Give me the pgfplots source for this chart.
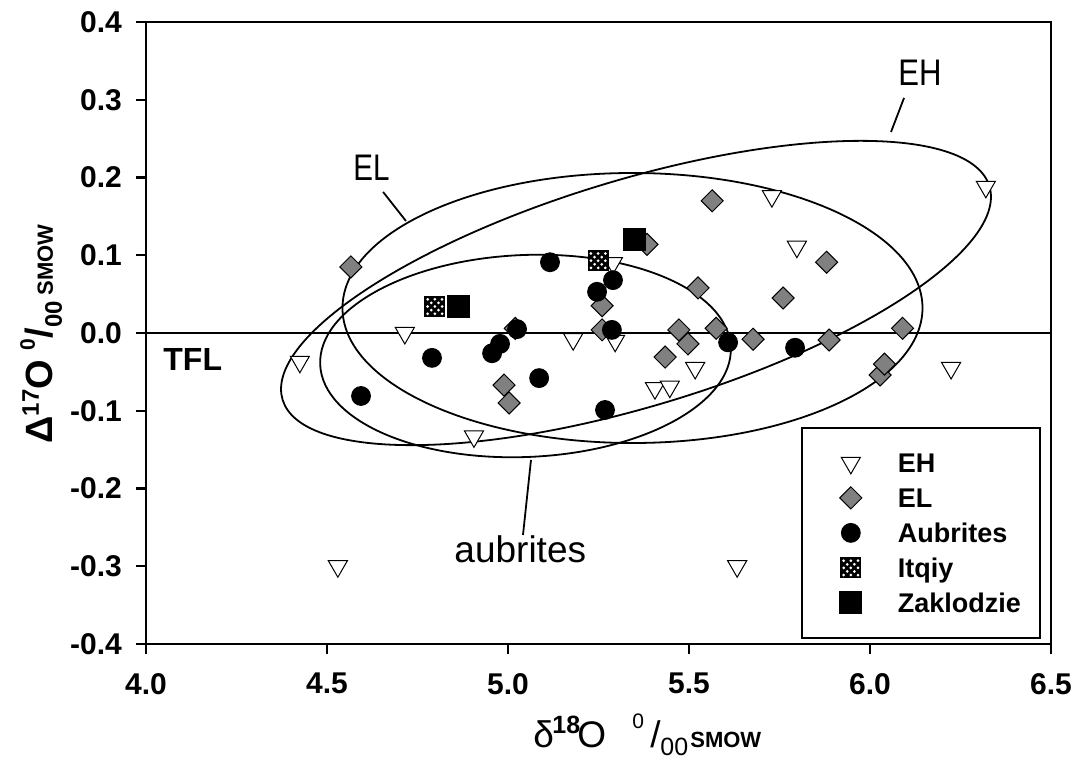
\documentclass[border=0pt]{standalone}
\usepackage{fontspec}
\setmainfont{Liberation Sans}
\usepackage{pgfplots}
\pgfplotsset{compat=1.18}

\pgfdeclareplotmark{checker}{%
  \pgfpathrectangle{\pgfpoint{-\pgfplotmarksize}{-\pgfplotmarksize}}{\pgfpoint{2\pgfplotmarksize}{2\pgfplotmarksize}}%
  \pgfsetfillcolor{black}\pgfusepathqfillstroke
  \pgfsetfillcolor{white}%
  \pgfpathcircle{\pgfpoint{-3.6pt}{-3.6pt}}{0.75pt}\pgfpathcircle{\pgfpoint{0pt}{-3.6pt}}{0.75pt}\pgfpathcircle{\pgfpoint{3.6pt}{-3.6pt}}{0.75pt}%
  \pgfpathcircle{\pgfpoint{-1.8pt}{-1.8pt}}{0.75pt}\pgfpathcircle{\pgfpoint{1.8pt}{-1.8pt}}{0.75pt}%
  \pgfpathcircle{\pgfpoint{-3.6pt}{0pt}}{0.75pt}\pgfpathcircle{\pgfpoint{0pt}{0pt}}{0.75pt}\pgfpathcircle{\pgfpoint{3.6pt}{0pt}}{0.75pt}%
  \pgfpathcircle{\pgfpoint{-1.8pt}{1.8pt}}{0.75pt}\pgfpathcircle{\pgfpoint{1.8pt}{1.8pt}}{0.75pt}%
  \pgfpathcircle{\pgfpoint{-3.6pt}{3.6pt}}{0.75pt}\pgfpathcircle{\pgfpoint{0pt}{3.6pt}}{0.75pt}\pgfpathcircle{\pgfpoint{3.6pt}{3.6pt}}{0.75pt}%
  \pgfusepathqfill
}

\begin{document}
\begin{tikzpicture}
\begin{axis}[
  scale only axis, width=452.5pt, height=311pt,
  xmin=4, xmax=6.5, ymin=-0.4, ymax=0.4,
  xtick={4,4.5,5,5.5,6,6.5},
  xticklabels={4.0,4.5,5.0,5.5,6.0,6.5},
  ytick={-0.4,-0.3,-0.2,-0.1,0,0.1,0.2,0.3,0.4},
  yticklabels={-0.4,-0.3,-0.2,-0.1,0.0,0.1,0.2,0.3,0.4},
  tick label style={font=\fontsize{15}{15}\selectfont\bfseries},
  xticklabel style={yshift=-6pt},
  yticklabel style={xshift=-3.5pt},
  tick align=outside, major tick length=5pt,
  xtick pos=left, ytick pos=left,
  axis line style={line width=1.1pt},
  every tick/.style={black, line width=1.1pt},
  clip=false,
  xlabel={\makebox[9.5pt][l]{δ}\makebox[12.5pt][l]{\raisebox{7pt}{\fontsize{12.5}{12.5}\selectfont\bfseries 18}}\makebox[27.5pt][l]{O}\makebox[9pt][l]{\raisebox{9.5pt}{\fontsize{10.5}{10.5}\selectfont 0}}\makebox[5pt][l]{/}\makebox[15pt][l]{\raisebox{-4pt}{\fontsize{12.5}{12.5}\selectfont 00}}{\fontsize{11}{11}\selectfont\bfseries SMOW}},
  xlabel style={at={(axis description cs:0.4276,-0.1656)}, anchor=base west, font=\fontsize{18.5}{20}\selectfont, inner sep=0pt},
  ylabel={Δ\raisebox{7pt}{\fontsize{12}{12}\selectfont 17}O\hspace{5pt}\raisebox{9pt}{\fontsize{10.5}{10.5}\selectfont 0}/\raisebox{-4.5pt}{\fontsize{12}{12}\selectfont 00}\hspace{3pt}{\fontsize{11}{11}\selectfont SMOW}},
  ylabel style={at={(axis description cs:-0.1028,0.3215)}, anchor=base west, rotate=0, font=\fontsize{19}{20}\selectfont\bfseries, inner sep=0pt},
  legend cell align=left,
  legend style={at={(axis description cs:0.7238,0.3489)}, anchor=north west,
    draw=black, line width=0.8pt, inner xsep=9.5pt, inner ysep=8.8pt,
    font=\fontsize{13.5}{13.5}\selectfont\bfseries,
    column sep=8.5pt, row sep=0pt,
    nodes={inner sep=0pt, text height=13.5pt, text depth=4pt}},
  legend image code/.code={\path[draw=none] (0pt,0pt) (30pt,0pt);\draw[mark repeat=2,mark phase=2,#1,draw=none] plot coordinates {(0pt,0pt) (15pt,0pt) (30pt,0pt)};},
]

% ellipses and reference line
\draw[line width=1pt] (axis cs:4,0) -- (axis cs:6.5,0);
\draw[line width=0.9pt, rotate around={16.8:(axis cs:5.3536,0.05145)}] (axis cs:5.3536,0.05145) ellipse [x radius=184.6pt, y radius=56.65pt];
\draw[line width=0.9pt] (axis cs:5.3439,0.03215) ellipse [x radius=145pt, y radius=67.5pt];
\draw[line width=0.9pt, rotate around={2.4:(axis cs:5.0483,-0.02958)}] (axis cs:5.0483,-0.02958) ellipse [x radius=102.75pt, y radius=50.5pt];

% EH
\addplot[only marks, mark=triangle*, mark size=5.5pt,
  mark options={rotate=180, fill=white, draw=black, line width=0.5pt}]
  coordinates {
  (4.425,-0.037) (4.715,0.000) (4.906,-0.133) (4.530,-0.300) (5.180,-0.008)
  (5.296,-0.010) (5.290,0.090) (5.406,-0.071) (5.447,-0.069) (5.517,-0.045)
  (5.729,0.176) (5.798,0.111) (6.320,0.188) (6.224,-0.045) (5.633,-0.300)
  };
\addlegendentry{EH}

% EL
\addplot[only marks, mark=square*, mark size=3.9pt,
  mark options={rotate=45, fill=gray, draw=black, line width=0.5pt}]
  coordinates {
  (4.566,0.085) (4.989,-0.067) (5.003,-0.090) (5.020,0.006) (5.260,0.035)
  (5.260,0.004) (5.384,0.114) (5.434,-0.031) (5.472,0.004) (5.497,-0.014)
  (5.525,0.058) (5.564,0.170) (5.575,0.006) (5.677,-0.008) (5.760,0.045)
  (5.880,0.091) (5.887,-0.009) (6.028,-0.054) (6.040,-0.040) (6.090,0.006)
  };
\addlegendentry{EL}

% Aubrites
\addplot[only marks, mark=*, mark size=4.7pt,
  mark options={fill=black, draw=black, line width=0.5pt}]
  coordinates {
  (4.594,-0.081) (4.790,-0.032) (4.956,-0.026) (4.978,-0.014) (5.025,0.005)
  (5.086,-0.058) (5.116,0.091) (5.246,0.053) (5.268,-0.099) (5.287,0.004)
  (5.290,0.068) (5.608,-0.012) (5.793,-0.019)
  };
\addlegendentry{Aubrites}

% Itqiy
\addplot[only marks, mark=checker, mark size=5pt,
  mark options={draw=black, line width=0.5pt}]
  coordinates {(4.798,0.034) (5.249,0.093)};
\addlegendentry{Itqiy}

% Zaklodzie
\addplot[only marks, mark=square*, mark size=5.5pt,
  mark options={fill=black, draw=black, line width=0.5pt}]
  coordinates {(4.862,0.034) (5.350,0.120)};
\addlegendentry{Zaklodzie}

% annotations
\node[anchor=base west, font=\fontsize{16}{16}\selectfont\bfseries, inner sep=0pt] at (axis cs:4.047,-0.0476) {TFL};
\node[anchor=base, font=\fontsize{18.5}{18.5}\selectfont, inner sep=0pt] at (axis cs:6.138,0.3177) {\scalebox{0.84}[1]{EH}};
\draw[line width=0.9pt] (axis cs:6.094,0.3023) -- (axis cs:6.058,0.2585);
\node[anchor=base west, font=\fontsize{18.5}{18.5}\selectfont, inner sep=0pt] at (axis cs:4.572,0.1955) {\scalebox{0.8}[1]{EL}};
\draw[line width=0.9pt] (axis cs:4.655,0.1814) -- (axis cs:4.718,0.1441);
\node[anchor=base west, font=\fontsize{18.5}{18.5}\selectfont, inner sep=0pt] at (axis cs:4.851,-0.2958) {aubrites};
\draw[line width=0.9pt] (axis cs:5.0635,-0.1633) -- (axis cs:5.0414,-0.2598);

\coordinate (bbbl) at (axis cs:3.59669,-0.54791);
\coordinate (bbtr) at (axis cs:6.56354,0.42830);
\end{axis}
\pgfresetboundingbox
\path[use as bounding box] (bbbl) rectangle (bbtr);
\end{tikzpicture}
\end{document}
